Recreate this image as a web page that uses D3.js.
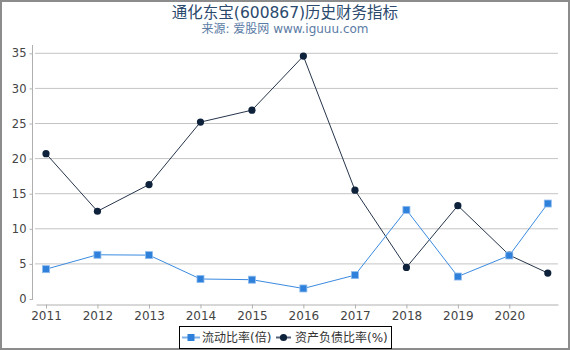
<!DOCTYPE html>
<html>
<head>
<meta charset="utf-8">
<script src="https://cdn.jsdelivr.net/npm/d3@7"></script>
<style>
  html, body { margin: 0; padding: 0; background: #fff; }
  svg { display: block; font-family: "DejaVu Sans", "Noto Sans CJK SC", sans-serif; }
</style>
</head>
<body>
<div id="chart"></div>
<script>
// report dates (last one is a Q3 figure)
const dates = ['2011-01-01', '2012-01-01', '2013-01-01', '2014-01-01', '2015-01-01',
  '2016-01-01', '2017-01-01', '2018-01-01', '2019-01-01', '2020-01-01', '2020-09-30'];
const currentRatio = [4.25, 6.3, 6.25, 2.85, 2.75, 1.5, 3.4, 12.7, 3.2, 6.2, 13.6];
const debtRatio = [20.7, 12.5, 16.3, 25.2, 26.9, 34.6, 15.5, 4.5, 13.3, 6.25, 3.7];
const yTicks = [0, 5, 10, 15, 20, 25, 30, 35];
const xTickYears = [2011, 2012, 2013, 2014, 2015, 2016, 2017, 2018, 2019, 2020];
const seriesNames = ['流动比率(倍)', '资产负债比率(%)'];

const W = 570, H = 350;
const parse = d3.timeParse('%Y-%m-%d');
const points = dates.map((d, i) => ({ date: parse(d), cr: currentRatio[i], dr: debtRatio[i] }));

const svg = d3.select('#chart').append('svg')
  .attr('width', W).attr('height', H);

svg.append('rect')
  .attr('x', 1).attr('y', 1).attr('width', W - 2).attr('height', H - 2)
  .attr('fill', '#fff').attr('stroke', '#8c8c8c').attr('stroke-width', 2);

// title
svg.append('text')
  .attr('x', 285).attr('y', 18).attr('text-anchor', 'middle')
  .attr('font-size', 15.5).attr('fill', '#2b4a6d')
  .text('通化东宝(600867)历史财务指标');
svg.append('text')
  .attr('x', 285).attr('y', 33).attr('text-anchor', 'middle')
  .attr('font-size', 12).attr('fill', '#5b7ba5')
  .text('来源: 爱股网 www.iguuu.com');

// scales
const x = d3.scaleTime()
  .domain([new Date(2011, 0, 1), new Date(2020, 0, 1)])
  .range([46, 509.3]);
x.domain([x.invert(36), x.invert(558)]).range([36, 558]);

const y = d3.scaleLinear().domain([0, 35]).range([299, 53.3]);

// grid
svg.append('g').selectAll('line')
  .data(yTicks.filter(t => t > 0))
  .join('line')
  .attr('x1', 35).attr('x2', 558)
  .attr('y1', d => y(d)).attr('y2', d => y(d))
  .attr('stroke', '#c4c4c4').attr('stroke-width', 1);

// y axis
const yAxis = svg.append('g')
  .attr('transform', 'translate(32.5,0)')
  .call(d3.axisLeft(y).tickValues(yTicks).tickSize(3).tickPadding(3));
yAxis.select('.domain').remove();
yAxis.append('line').attr('x1', 0).attr('x2', 0).attr('y1', 45).attr('y2', 300)
  .attr('stroke', '#b0b0b0');
yAxis.selectAll('.tick line').attr('stroke', '#b0b0b0');
yAxis.selectAll('.tick text').attr('font-size', 11.5).attr('fill', '#444')
  .attr('font-family', '"DejaVu Sans", sans-serif');

// x axis
const xAxis = svg.append('g')
  .attr('transform', 'translate(0,304.5)')
  .call(d3.axisBottom(x)
    .tickValues(xTickYears.map(yr => new Date(yr, 0, 1)))
    .tickFormat(d3.timeFormat('%Y'))
    .tickSize(4).tickSizeOuter(0).tickPadding(3));
xAxis.select('.domain').attr('stroke', '#b0b0b0');
xAxis.selectAll('.tick line').attr('stroke', '#b0b0b0');
xAxis.selectAll('.tick text').attr('font-size', 12).attr('fill', '#444')
  .attr('font-family', '"DejaVu Sans", sans-serif');

// lines
const blue = '#2f80da', navy = '#0f223c';
const lineCr = d3.line().x(d => x(d.date)).y(d => y(d.cr));
const lineDr = d3.line().x(d => x(d.date)).y(d => y(d.dr));

svg.append('path').datum(points).attr('d', lineDr)
  .attr('fill', 'none').attr('stroke', '#26354b').attr('stroke-width', 1);
svg.append('path').datum(points).attr('d', lineCr)
  .attr('fill', 'none').attr('stroke', '#3a8ae0').attr('stroke-width', 1);

svg.append('g').selectAll('circle')
  .data(points).join('circle')
  .attr('cx', d => x(d.date)).attr('cy', d => y(d.dr)).attr('r', 3.6)
  .attr('fill', navy);

svg.append('g').selectAll('rect')
  .data(points).join('rect')
  .attr('x', d => x(d.date) - 3.5).attr('y', d => y(d.cr) - 3.5)
  .attr('width', 7).attr('height', 7)
  .attr('fill', blue).attr('stroke', '#8dbbee').attr('stroke-width', 0.8);

// legend
const lg = svg.append('g');
lg.append('rect').attr('x', 179.5).attr('y', 326.5).attr('width', 212).attr('height', 22)
  .attr('fill', '#fff').attr('stroke', '#000').attr('stroke-width', 1);
lg.append('line').attr('x1', 182).attr('x2', 200).attr('y1', 337.5).attr('y2', 337.5)
  .attr('stroke', '#7fb2ea').attr('stroke-width', 2);
lg.append('rect').attr('x', 187.5).attr('y', 334).attr('width', 7).attr('height', 7)
  .attr('fill', blue);
lg.append('text').attr('x', 202).attr('y', 342).attr('font-size', 12).attr('fill', '#333')
  .text(seriesNames[0]);
lg.append('line').attr('x1', 276).attr('x2', 291).attr('y1', 337.5).attr('y2', 337.5)
  .attr('stroke', '#55627a').attr('stroke-width', 2);
lg.append('circle').attr('cx', 283.5).attr('cy', 337.5).attr('r', 3.6).attr('fill', navy);
lg.append('text').attr('x', 295).attr('y', 342).attr('font-size', 12).attr('fill', '#333')
  .text(seriesNames[1]);
</script>
</body>
</html>
